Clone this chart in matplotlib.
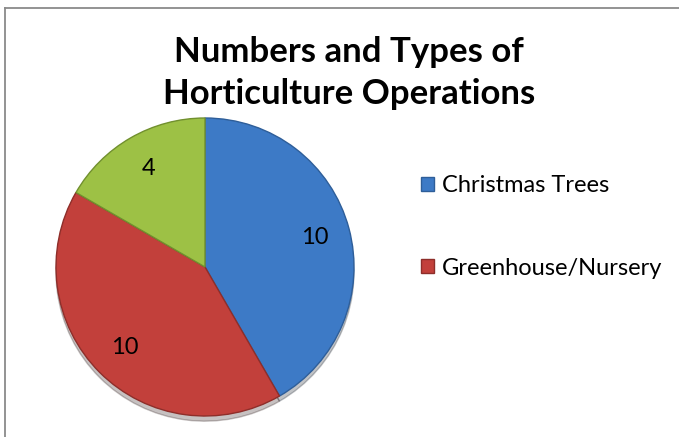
import matplotlib
matplotlib.use("Agg")
import matplotlib.pyplot as plt
from matplotlib.lines import Line2D

categories = ["Christmas Trees", "Greenhouse/Nursery", "Other"]
values = [10, 10, 4]
colors = ["#3D7AC6", "#C2403B", "#9DC145"]
edge_colors = ["#2E5E99", "#8E2E2A", "#71902E"]
legend_count = 2
title = "Numbers and Types of\nHorticulture Operations"

plt.rcParams['font.family'] = ['Lato', 'DejaVu Sans']

W, H = 679, 437
fig = plt.figure(figsize=(W / 100, H / 100), dpi=100)
fig.patch.set_facecolor("white")

# frame lines (top and left visible)
fig.add_artist(Line2D([5 / W, 1], [1 - 8 / H, 1 - 8 / H], color="#8a8a8a", lw=1.3,
                      transform=fig.transFigure))
fig.add_artist(Line2D([5 / W, 5 / W], [0, 1 - 8 / H], color="#8a8a8a", lw=1.3,
                      transform=fig.transFigure))

cx, cy, r = 205, 267, 149
ax = fig.add_axes([(cx - r) / W, (H - cy - r) / H, 2 * r / W, 2 * r / H])
total = sum(values)
wedges, texts, autotexts = ax.pie(
    values, colors=colors, startangle=90, counterclock=False,
    autopct=lambda p: f"{round(p * total / 100)}", pctdistance=0.76,
    wedgeprops=dict(linewidth=1.0),
    textprops=dict(fontsize=17, color="black"),
    shadow=dict(ox=0.0, oy=-0.025, shade=0.85, alpha=0.25),
)
for w, ec in zip(wedges, edge_colors):
    w.set_edgecolor(ec)
ax.set_xlim(-1, 1)
ax.set_ylim(-1, 1)
ax.set_aspect("equal")
ax.axis("off")

fig.text(349 / W, 1 - 73 / H, title, ha="center", va="center", fontsize=25,
         fontweight="bold", linespacing=1.38)

fig.legend(wedges[:legend_count], categories[:legend_count],
           loc="center left", bbox_to_anchor=(409 / W, 1 - 227 / H),
           frameon=False, fontsize=17, handlelength=0.55, handleheight=0.55,
           handletextpad=0.35, labelspacing=2.6, borderpad=0)

fig.savefig("out.png", dpi=100, facecolor="white")
